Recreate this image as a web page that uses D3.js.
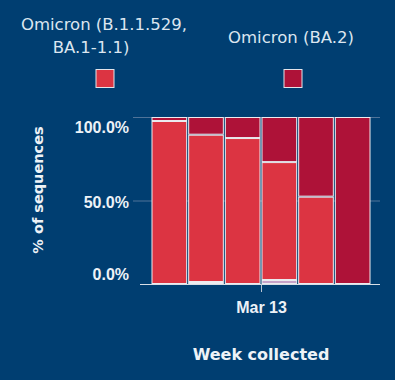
<!DOCTYPE html>
<html>
<head>
<script src="https://d3js.org/d3.v7.min.js"></script>
<style>
    body { margin: 0; background: #003e71; }
    svg { display: block; font-family: "DejaVu Sans", sans-serif; }
</style>
</head>
<body>
<script>
// weeks collected (week start dates)
var weeks = ['2022-02-20', '2022-02-27', '2022-03-06', '2022-03-13', '2022-03-20', '2022-03-27'];
// share of sequences per week (%)
var other = [0, 1.2, 0, 2.4, 0, 0];
var ba1 = [97.6, 88.2, 87.4, 70.6, 52.3, 0];
var ba2 = [2.4, 10.6, 12.6, 27.0, 47.7, 100];
var seriesNames = ['Other', 'Omicron (B.1.1.529, BA.1-1.1)', 'Omicron (BA.2)'];
var legendLines = [['Omicron (B.1.1.529,', 'BA.1-1.1)'], ['Omicron (BA.2)']];
var yTicks = [0, 0.5, 1];
var xTicks = ['2022-03-13'];

var width = 395, height = 380;
var colors = { 'Other': '#c6a2c8', 'Omicron (B.1.1.529, BA.1-1.1)': '#dc3442', 'Omicron (BA.2)': '#ae1238' };
var textColor = '#edf2f7';

var parse = d3.timeParse('%Y-%m-%d');
var data = weeks.map(function (w, i) {
    return { week: parse(w), 'Other': other[i] / 100, 'Omicron (B.1.1.529, BA.1-1.1)': ba1[i] / 100, 'Omicron (BA.2)': ba2[i] / 100 };
});

var svg = d3.select('body').append('svg')
    .attr('width', width)
    .attr('height', height);

// scales
var plotLeft = 140, plotRight = 380;
var x = d3.scaleTime()
    .domain([data[0].week, d3.timeDay.offset(data[data.length - 1].week, 7)])
    .range([151, 371]);
var y = d3.scaleLinear()
    .domain([0, 1])
    .range([284, 117]);

// gridlines
svg.append('g')
    .selectAll('line')
    .data(yTicks.filter(function (d) { return d > 0; }))
    .enter().append('line')
    .attr('x1', 133).attr('x2', plotRight)
    .attr('y1', function (d) { return y(d) + 0.5; })
    .attr('y2', function (d) { return y(d) + 0.5; })
    .attr('stroke', '#4f7399')
    .attr('stroke-width', 1);

// y axis
var yAxis = svg.append('g')
    .attr('transform', 'translate(' + plotLeft + ',0)')
    .call(d3.axisLeft(y).tickValues(yTicks).tickFormat(d3.format('.1%')).tickSize(0).tickPadding(11));
yAxis.select('.domain').remove();
yAxis.selectAll('text')
    .attr('fill', textColor)
    .style('font-size', '16px')
    .style('font-weight', 'bold')
    .attr('dy', function (d) { return d === 1 ? '0.95em' : d === 0 ? '-0.3em' : '0.42em'; });

// stacked bars
var stack = d3.stack().keys(seriesNames);
var layers = stack(data);
svg.append('g')
    .selectAll('g')
    .data(layers)
    .enter().append('g')
    .attr('fill', function (d) { return colors[d.key]; })
    .selectAll('rect')
    .data(function (d) { return d.filter(function (p) { return p[1] - p[0] > 0; }); })
    .enter().append('rect')
    .attr('x', function (d) { return x(d.data.week) + 1; })
    .attr('width', function (d) { return x(d3.timeDay.offset(d.data.week, 7)) - x(d.data.week) - 2; })
    .attr('y', function (d) { return y(d[1]) + 0.5; })
    .attr('height', function (d) { return Math.max(0, y(d[0]) - y(d[1]) - 1); })
    .attr('stroke', '#ececf0')
    .attr('stroke-width', 1);

// x axis
var xAxis = svg.append('g')
    .attr('transform', 'translate(0,284)')
    .call(d3.axisBottom(x).tickValues(xTicks.map(parse)).tickFormat(d3.timeFormat('%b %-d')).tickSize(8).tickSizeOuter(0).tickPadding(10));
xAxis.select('.domain')
    .attr('d', 'M' + plotLeft + ',0.5H' + plotRight)
    .attr('stroke', '#d8dee6');
xAxis.selectAll('.tick line').attr('stroke', '#b8c4d2');
xAxis.selectAll('text')
    .attr('fill', textColor)
    .style('font-size', '16px')
    .style('font-weight', 'bold');

// axis titles
svg.append('text')
    .attr('transform', 'translate(43,' + 190 + ') rotate(-90)')
    .attr('text-anchor', 'middle')
    .attr('fill', textColor)
    .style('font-size', '14.5px')
    .style('font-weight', 'bold')
    .text('% of sequences');

svg.append('text')
    .attr('x', 261)
    .attr('y', 360)
    .attr('text-anchor', 'middle')
    .attr('fill', textColor)
    .style('font-size', '16px')
    .style('font-weight', 'bold')
    .text('Week collected');

// legend
var legendX = [105, 293];
var legend = svg.append('g');
var items = legend.selectAll('g')
    .data(seriesNames.slice(1))
    .enter().append('g')
    .attr('transform', function (d, i) { return 'translate(' + legendX[i] + ',0)'; });

items.append('rect')
    .attr('x', -9).attr('y', 69.5)
    .attr('width', 18).attr('height', 18)
    .attr('fill', function (d) { return colors[d]; })
    .attr('stroke', '#e4e4ea')
    .attr('stroke-width', 1);

items.append('text')
    .attr('text-anchor', 'middle')
    .attr('fill', '#dce6f0')
    .style('font-size', '16.5px')
    .each(function (d, i) {
        var lines = legendLines[i];
        var t = d3.select(this);
        lines.forEach(function (line, j) {
            t.append('tspan')
                .attr('x', lines.length > 1 && j === 1 ? -14 : (lines.length > 1 ? -1 : -2))
                .attr('y', lines.length > 1 ? 30 + j * 23 : 43)
                .text(line);
        });
    });
</script>
</body>
</html>
